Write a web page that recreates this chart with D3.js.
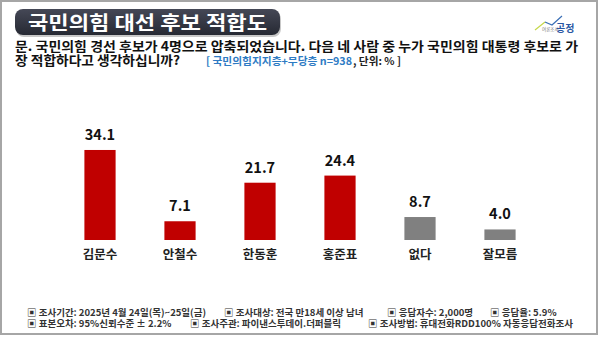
<!DOCTYPE html>
<html><head><meta charset="utf-8">
<script src="https://cdn.jsdelivr.net/npm/d3@7"></script>
<style>html,body{margin:0;padding:0;background:#fff;}svg{display:block;}</style>
</head><body>
<script>
const categories = ["김문수", "안철수", "한동훈", "홍준표", "없다", "잘모름"];
const values = [34.1, 7.1, 21.7, 24.4, 8.7, 4.0];
const barColors = ["#C00000", "#C00000", "#C00000", "#C00000", "#808080", "#808080"];
const titleText = "국민의힘 대선 후보 적합도";
const questionLines = ["문. 국민의힘 경선 후보가 4명으로 압축되었습니다. 다음 네 사람 중 누가 국민의힘 대통령 후보로 가", "장 적합하다고 생각하십니까?"];
const sampleNote = ["[ 국민의힘지지층+무당층 n=938", ", 단위: % ]"];
const footerLine1 = ["조사기간: 2025년 4월 24일(목)~25일(금)", "조사대상: 전국 만18세 이상 남녀", "응답자수: 2,000명", "응답율: 5.9%"];
const footerLine2 = ["표본오차: 95%신뢰수준 ± 2.2%", "조사주관: 파이낸스투데이.더퍼블릭", "조사방법: 휴대전화RDD100% 자동응답전화조사"];

const W = 600, H = 338;
const FONT = "'Noto Sans CJK KR', 'Noto Sans', sans-serif";
const svg = d3.select("body").append("svg").attr("width", W).attr("height", H)
  .style("font-family", FONT);

// frame
svg.append("rect").attr("x", 1).attr("y", 1).attr("width", 596).attr("height", 333)
  .attr("fill", "#fff").attr("stroke", "#a6a6a6").attr("stroke-width", 2);

// title box
const defs = svg.append("defs");
const g = defs.append("linearGradient").attr("id", "tg").attr("x1", 0).attr("y1", 0).attr("x2", 0).attr("y2", 1);
g.append("stop").attr("offset", "0%").attr("stop-color", "#454856");
g.append("stop").attr("offset", "100%").attr("stop-color", "#262933");
svg.append("rect").attr("x", 16).attr("y", 11).attr("width", 265).attr("height", 26).attr("rx", 8)
  .attr("fill", "#c8c8c8");
svg.append("rect").attr("x", 15).attr("y", 9).attr("width", 265).attr("height", 26).attr("rx", 8)
  .attr("fill", "url(#tg)");
svg.append("text").attr("x", 28).attr("y", 30).attr("fill", "#fff")
  .attr("font-size", 19.5).attr("font-weight", "bold")
  .attr("textLength", 239).attr("lengthAdjust", "spacingAndGlyphs").text(titleText);

// logo
svg.append("polyline").attr("points", "535,30 545,22").attr("fill", "none").attr("stroke", "#c5d84a").attr("stroke-width", 1.2);
svg.append("polyline").attr("points", "545,22 552,25 562,16").attr("fill", "none").attr("stroke", "#3a6fb5").attr("stroke-width", 1.2);
svg.append("text").attr("x", 542).attr("y", 31).attr("font-size", 4.5).attr("fill", "#777").text("여론조사");
svg.append("text").attr("x", 556).attr("y", 32).attr("font-size", 10).attr("font-weight", "bold").attr("fill", "#2a57a3").text("공정");

// question
svg.append("text").attr("x", 15).attr("y", 51).attr("font-size", 13).attr("font-weight", "bold").attr("fill", "#111")
  .attr("textLength", 563).attr("lengthAdjust", "spacingAndGlyphs").text(questionLines[0]);
svg.append("text").attr("x", 15).attr("y", 65).attr("font-size", 13).attr("font-weight", "bold").attr("fill", "#111")
  .attr("textLength", 165).attr("lengthAdjust", "spacingAndGlyphs").text(questionLines[1]);
svg.append("text").attr("x", 206).attr("y", 65).attr("font-size", 10.5).attr("font-weight", "bold")
  .attr("fill", "#2e7bc4").attr("textLength", 146).attr("lengthAdjust", "spacingAndGlyphs").text(sampleNote[0]);
svg.append("text").attr("x", 353).attr("y", 65).attr("font-size", 10.5).attr("font-weight", "bold")
  .attr("fill", "#222").attr("textLength", 48).attr("lengthAdjust", "spacingAndGlyphs").text(sampleNote[1]);

// chart
const x = d3.scaleBand().domain(categories).range([60, 540]).paddingInner(0.61).paddingOuter(0.305);
const y = d3.scaleLinear().domain([0, 40]).range([240, 134.4]);
const data = categories.map((c, i) => ({c, v: values[i], col: barColors[i]}));

svg.append("g").selectAll("rect").data(data).join("rect")
  .attr("x", d => x(d.c)).attr("width", x.bandwidth())
  .attr("y", d => y(d.v)).attr("height", d => y(0) - y(d.v))
  .attr("fill", d => d.col);

svg.append("g").selectAll("text").data(data).join("text")
  .attr("x", d => x(d.c) + x.bandwidth() / 2).attr("y", d => y(d.v) - 10)
  .attr("text-anchor", "middle").attr("font-size", 14.5).attr("font-weight", "bold").attr("fill", "#111")
  .text(d => d.v.toFixed(1));

const xAxis = svg.append("g").attr("transform", "translate(0,240)")
  .call(d3.axisBottom(x).tickSize(0).tickPadding(19));
xAxis.select(".domain").remove();
xAxis.selectAll("text").attr("font-size", 12.5).attr("font-weight", "bold").attr("fill", "#222")
  .attr("font-family", FONT).attr("dy", 0);

// footer
const fx1 = [27, 224, 387, 490];
const fx2 = [27, 190, 368];
function footer(items, xs, yy) {
  items.forEach((t, i) => {
    svg.append("text").attr("x", xs[i]).attr("y", yy).attr("font-size", 9.5).attr("font-weight", "bold")
      .attr("fill", "#333").text("▣ " + t);
  });
}
footer(footerLine1, fx1, 315.5);
footer(footerLine2, fx2, 327);
</script>
</body></html>
